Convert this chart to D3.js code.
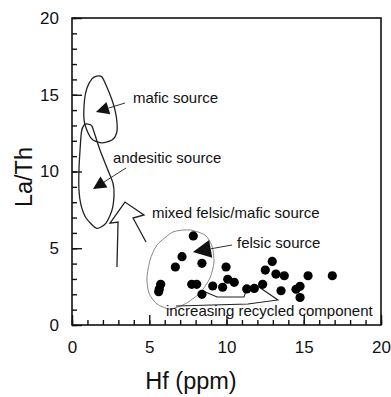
<!DOCTYPE html>
<html>
<head>
<meta charset="utf-8">
<script src="https://cdn.jsdelivr.net/npm/d3@7"></script>
<style>
    body { margin: 0; background: #fff; }
    svg text { font-family: "Liberation Sans", Arial, sans-serif; fill: #111; }
</style>
</head>
<body>
<svg id="chart" width="391" height="397"></svg>
<script>
// samples
const hf   = [7.85, 7.12, 6.69, 8.41, 5.74, 5.65, 5.61, 7.75, 8.07, 8.41, 9.97, 9.11, 9.75, 10.08,
              10.50, 11.31, 11.80, 12.34, 12.96, 12.51, 13.20, 13.74, 15.28, 16.85, 13.53, 14.50, 14.76, 14.76]
const laTh = [5.80, 4.45, 3.78, 4.02, 2.65, 2.34, 2.17, 2.65, 2.65, 2.00, 3.78, 2.54, 2.46, 2.98,
              2.78, 2.35, 2.38, 2.65, 4.14, 3.58, 3.32, 3.21, 3.21, 3.21, 2.23, 2.33, 2.52, 1.79]

// source fields (Hf, La/Th)
const maficField = [[1.60, 16.22], [1.94, 16.16], [2.25, 15.52], [2.59, 14.66], [2.78, 14.01], [2.91, 13.22],
                    [2.89, 12.51], [2.59, 12.05], [1.94, 11.86], [1.36, 12.05], [1.04, 12.51], [0.78, 13.36],
                    [0.81, 14.66], [0.97, 15.44], [1.29, 16.03]]
const andesiticField = [[1.04, 13.09], [0.78, 13.03], [0.61, 12.57], [0.52, 11.40], [0.45, 10.10], [0.45, 8.79],
                        [0.58, 7.82], [0.91, 6.97], [1.60, 6.30], [2.20, 6.64], [2.59, 7.49], [2.72, 8.47],
                        [2.65, 9.25], [2.27, 10.23], [1.81, 11.40], [1.49, 12.38], [1.29, 12.96]]
const felsicField = [[6.54, 6.06], [7.64, 6.19], [8.61, 5.86], [9.06, 5.15], [9.19, 4.10], [8.93, 3.06],
                     [8.28, 2.08], [7.31, 1.37], [6.34, 1.04], [5.50, 1.37], [4.98, 2.08], [4.85, 3.06],
                     [5.05, 4.23], [5.50, 5.21]]

// open trend arrows
const mixedArrow = [[2.91, 3.78], [2.98, 6.71], [2.46, 6.64], [3.43, 8.01], [4.66, 7.17], [3.95, 6.97], [4.79, 5.41]]
const recycledArrow = [[8.48, 2.21], [9.39, 1.82], [11.13, 1.82], [11.33, 2.41], [11.91, 2.61], [13.33, 1.63],
                       [11.39, 1.37], [6.73, 1.24]]

// labels and pointers
const labels = [
    { text: "mafic source", x: 3.95, y: 14.46 },
    { text: "andesitic source", x: 2.65, y: 10.55 },
    { text: "mixed felsic/mafic source", x: 5.18, y: 6.97 },
    { text: "felsic source", x: 10.68, y: 5.02 },
    { text: "increasing recycled component", x: 6.08, y: 0.59 },
]
const pointers = [
    { from: [3.43, 14.46], to: [1.55, 13.88], head: 13 },
    { from: [3.50, 10.23], to: [1.36, 8.86], head: 13 },
    { from: [10.36, 5.21], to: [7.83, 4.76], head: 18 },
]

const xTicks = [0, 5, 10, 15, 20]
const yTicks = [0, 5, 10, 15, 20]

let svg = d3.select("#chart")
let margin = { left: 72, right: 10, top: 18, bottom: 72 }
let width = 391 - margin.left - margin.right
let height = 397 - margin.top - margin.bottom

let x = d3.scaleLinear().domain([0, 20]).range([margin.left, margin.left + width])
let y = d3.scaleLinear().domain([0, 20]).range([margin.top + height, margin.top])

// frame
svg.append("rect")
    .attr("x", x(0)).attr("y", y(20))
    .attr("width", x(20) - x(0)).attr("height", y(0) - y(20))
    .attr("fill", "none").attr("stroke", "#111").attr("stroke-width", 1.6)

// minor ticks, inward
let xMinor = svg.append("g").attr("transform", "translate(0," + y(0) + ")")
    .call(d3.axisBottom(x).tickValues(d3.range(0, 21)).tickSize(-5).tickFormat(""))
let yMinor = svg.append("g").attr("transform", "translate(" + x(0) + ",0)")
    .call(d3.axisLeft(y).tickValues(d3.range(0, 21)).tickSize(-5).tickFormat(""))

// major ticks + labels
let xAxis = svg.append("g").attr("transform", "translate(0," + y(0) + ")")
    .call(d3.axisBottom(x).tickValues(xTicks).tickSize(-10).tickPadding(16))
let yAxis = svg.append("g").attr("transform", "translate(" + x(0) + ",0)")
    .call(d3.axisLeft(y).tickValues(yTicks).tickSize(-10).tickPadding(13))

;[xMinor, yMinor, xAxis, yAxis].forEach((g) => {
    g.select(".domain").remove()
    g.selectAll("line").attr("stroke", "#111").attr("stroke-width", 1.4)
})
;[xAxis, yAxis].forEach((g) => {
    g.selectAll("text").style("font-size", "17px").attr("fill", "#111")
})

// axis titles
svg.append("text")
    .attr("x", 191).attr("y", 389)
    .attr("text-anchor", "middle")
    .style("font-size", "23.5px")
    .text("Hf (ppm)")
svg.append("text")
    .attr("transform", "translate(32,177) rotate(-90)")
    .attr("text-anchor", "middle")
    .style("font-size", "23.5px")
    .text("La/Th")

let line = d3.line().x((d) => x(d[0])).y((d) => y(d[1]))
let closed = d3.line().x((d) => x(d[0])).y((d) => y(d[1])).curve(d3.curveCardinalClosed.tension(0.3))

svg.append("path").attr("d", closed(maficField))
    .attr("fill", "none").attr("stroke", "#222").attr("stroke-width", 1.3)
svg.append("path").attr("d", closed(andesiticField))
    .attr("fill", "none").attr("stroke", "#222").attr("stroke-width", 1.3)
svg.append("path").attr("d", closed(felsicField))
    .attr("fill", "none").attr("stroke", "#888").attr("stroke-width", 1)

svg.append("path").attr("d", line(mixedArrow))
    .attr("fill", "none").attr("stroke", "#222").attr("stroke-width", 1.3)
svg.append("path").attr("d", line(recycledArrow))
    .attr("fill", "none").attr("stroke", "#222").attr("stroke-width", 1.1)

// pointer arrows with filled heads
pointers.forEach((p) => {
    let x1 = x(p.from[0]), y1 = y(p.from[1])
    let x2 = x(p.to[0]), y2 = y(p.to[1])
    let ang = Math.atan2(y2 - y1, x2 - x1)
    let h = p.head, w = h * 0.5
    let bx = x2 - h * Math.cos(ang), by = y2 - h * Math.sin(ang)
    svg.append("line")
        .attr("x1", x1).attr("y1", y1).attr("x2", bx).attr("y2", by)
        .attr("stroke", "#333").attr("stroke-width", 1)
    svg.append("path")
        .attr("d", "M" + x2 + "," + y2 +
            "L" + (bx + w * Math.sin(ang)) + "," + (by - w * Math.cos(ang)) +
            "L" + (bx - w * Math.sin(ang)) + "," + (by + w * Math.cos(ang)) + "Z")
        .attr("fill", "#111")
})

// samples
svg.append("g").selectAll("circle")
    .data(hf)
    .enter()
    .append("circle")
    .attr("cx", (d) => x(d))
    .attr("cy", (d, i) => y(laTh[i]))
    .attr("r", 4.6)
    .attr("fill", "#000")

svg.append("g").selectAll("text")
    .data(labels)
    .enter()
    .append("text")
    .attr("x", (d) => x(d.x))
    .attr("y", (d) => y(d.y))
    .style("font-size", "15px")
    .text((d) => d.text)
</script>
</body>
</html>
